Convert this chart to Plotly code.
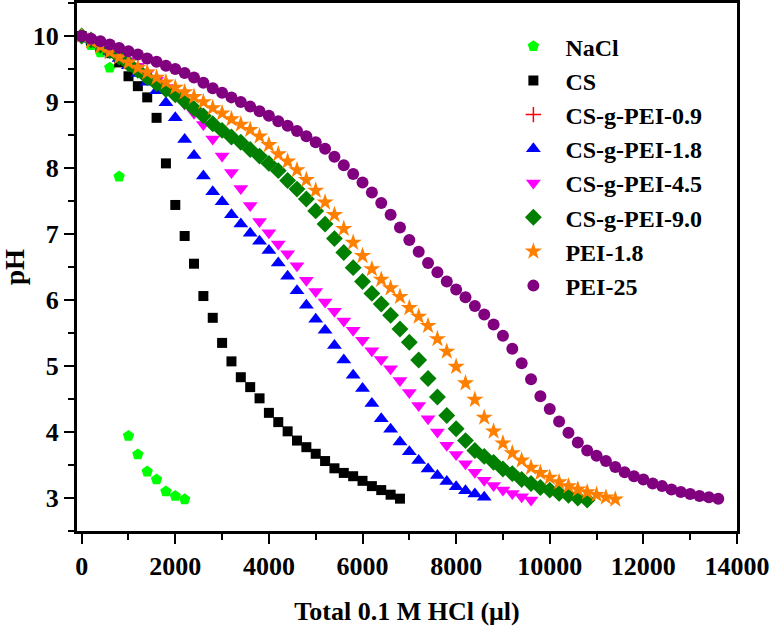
import plotly.graph_objects as go

# titrant volume grid (µl), 200 µl steps
step = 200

nacl_ph = [10.00, 9.86, 9.75, 9.52, 7.87, 3.94, 3.66, 3.40, 3.28, 3.10, 3.03, 2.98]

cs_ph = [10.00, 9.93, 9.84, 9.74, 9.60, 9.39, 9.24, 9.07, 8.76, 8.07,
         7.44, 6.97, 6.55, 6.06, 5.73, 5.35, 5.07, 4.83, 4.68, 4.51,
         4.29, 4.15, 4.01, 3.87, 3.77, 3.67, 3.56, 3.45, 3.38, 3.33,
         3.26, 3.18, 3.12, 3.05, 2.99]

cs_pei_09_ph = [None]  # hidden under the other series in the original

cs_pei_18_ph = [10.02, 9.95, 9.87, 9.77, 9.66, 9.55, 9.43, 9.30, 9.17, 8.99,
                8.76, 8.43, 8.19, 7.88, 7.64, 7.49, 7.29, 7.15, 7.01, 6.89,
                6.75, 6.56, 6.36, 6.14, 5.92, 5.71, 5.54, 5.31, 5.09, 4.86,
                4.66, 4.43, 4.20, 4.04, 3.85, 3.70, 3.57, 3.44, 3.34, 3.25,
                3.17, 3.11, 3.06, 3.01]

cs_pei_45_ph = [10.00, 9.94, 9.87, 9.80, 9.72, 9.63, 9.54, 9.44, 9.33, 9.22,
                9.10, 8.97, 8.83, 8.66, 8.44, 8.18, 7.93, 7.69, 7.43, 7.19,
                7.02, 6.85, 6.70, 6.52, 6.30, 6.13, 5.97, 5.83, 5.68, 5.54,
                5.39, 5.23, 5.10, 4.96, 4.78, 4.60, 4.40, 4.20, 4.00, 3.80,
                3.66, 3.52, 3.39, 3.27, 3.19, 3.12, 3.07, 3.02, 2.97]

cs_pei_90_ph = [10.00, 9.94, 9.86, 9.78, 9.68, 9.58, 9.48, 9.37, 9.28, 9.19,
                9.11, 9.01, 8.90, 8.79, 8.67, 8.57, 8.47, 8.39, 8.28, 8.18,
                8.07, 7.96, 7.81, 7.68, 7.53, 7.35, 7.15, 6.93, 6.72, 6.49,
                6.28, 6.10, 5.94, 5.77, 5.56, 5.36, 5.09, 4.81, 4.53, 4.25,
                4.05, 3.87, 3.72, 3.63, 3.54, 3.44, 3.37, 3.28, 3.22, 3.16,
                3.12, 3.07, 3.04, 3.00, 2.97]

pei_18_ph = [10.00, 9.92, 9.84, 9.76, 9.68, 9.60, 9.52, 9.45, 9.37, 9.30,
             9.22, 9.15, 9.08, 9.00, 8.91, 8.83, 8.74, 8.66, 8.58, 8.48,
             8.35, 8.21, 8.10, 7.97, 7.82, 7.66, 7.48, 7.29, 7.08, 6.87,
             6.67, 6.47, 6.31, 6.18, 6.05, 5.88, 5.75, 5.61, 5.41, 5.22,
             4.99, 4.74, 4.49, 4.22, 4.01, 3.83, 3.68, 3.57, 3.46, 3.38,
             3.31, 3.24, 3.18, 3.13, 3.09, 3.05, 3.01, 2.98]

pei_25_ph = [10.00, 9.96, 9.92, 9.87, 9.82, 9.77, 9.72, 9.66, 9.61, 9.55,
             9.50, 9.44, 9.37, 9.29, 9.21, 9.14, 9.07, 9.00, 8.93, 8.86,
             8.79, 8.71, 8.64, 8.56, 8.48, 8.39, 8.29, 8.17, 8.04, 7.91,
             7.78, 7.63, 7.47, 7.29, 7.10, 6.91, 6.73, 6.56, 6.42, 6.28,
             6.16, 6.04, 5.91, 5.78, 5.63, 5.46, 5.26, 5.04, 4.80, 4.54,
             4.35, 4.16, 3.99, 3.84, 3.72, 3.64, 3.56, 3.47, 3.39, 3.33,
             3.28, 3.22, 3.18, 3.13, 3.09, 3.06, 3.03, 3.01, 2.99]

series = [
    ("NaCl", nacl_ph, "pentagon", "#00FF00", 12),
    ("CS", cs_ph, "square", "#000000", 10),
    ("CS-g-PEI-0.9", cs_pei_09_ph, "cross-thin", "#FF0000", 11),
    ("CS-g-PEI-1.8", cs_pei_18_ph, "triangle-up", "#0000FF", 13),
    ("CS-g-PEI-4.5", cs_pei_45_ph, "triangle-down", "#FF00FF", 13),
    ("CS-g-PEI-9.0", cs_pei_90_ph, "diamond", "#007F00", 13),
    ("PEI-1.8", pei_18_ph, "star", "#FF7F00", 13),
    ("PEI-25", pei_25_ph, "circle", "#800080", 12),
]

FONT = "Liberation Serif, Times New Roman, serif"

fig = go.Figure()
for name, ph, symbol, color, size in series:
    vol = [i * step for i in range(len(ph))]
    fig.add_trace(go.Scatter(
        x=vol,
        y=ph,
        mode='markers',
        name=name,
        legendgroup=name,
        marker=dict(symbol=symbol, color=color, size=size,
                    line=dict(color=color, width=1.5 if symbol == "cross-thin" else 0)),
    ))

axis_common = dict(
    showline=True,
    linecolor='black',
    linewidth=3,
    mirror=True,
    ticks='outside',
    ticklen=10,
    tickwidth=2,
    tickcolor='black',
    showgrid=False,
    zeroline=False,
    automargin=False,
    ticklabeloverflow='allow',
    tickfont=dict(family=FONT, size=26, color='black', weight='bold'),
)

fig.update_xaxes(
    range=[-100, 14000.5],
    dtick=2000,
    tickformat='d',
    minor=dict(ticks='outside', ticklen=6, tickwidth=2, dtick=1000, tickcolor='black'),
    title=dict(text="Total 0.1 M HCl (μl)", standoff=22,
               font=dict(family=FONT, size=26, color='black', weight='bold')),
    **axis_common
)
fig.update_yaxes(
    range=[2.5, 10.5],
    dtick=1,
    minor=dict(ticks='outside', ticklen=6, tickwidth=2, dtick=0.5, tickcolor='black'),
    title=dict(text="pH", standoff=10,
               font=dict(family=FONT, size=27, color='black', weight='bold')),
    **axis_common
)

fig.update_layout(
    width=770,
    height=630,
    margin=dict(l=77, r=33, t=3, b=99),
    paper_bgcolor='white',
    plot_bgcolor='white',
    showlegend=True,
    legend=dict(
        x=0.643, y=0.96, xanchor='left', yanchor='top',
        font=dict(family=FONT, size=24, color='black', weight='bold'),
        traceorder='grouped', tracegroupgap=0,
        itemwidth=54,
        bgcolor='rgba(0,0,0,0)',
    ),
)

fig.write_html("out.html", config={'displayModeBar': False},
               post_script="document.body.style.margin='0';")
